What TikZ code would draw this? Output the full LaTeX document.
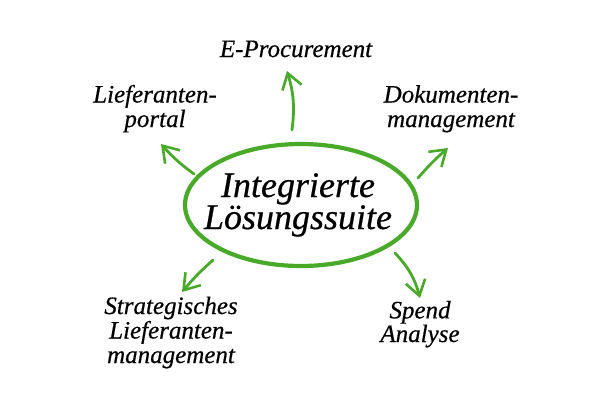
\documentclass[tikz,border=0pt]{standalone}
\usepackage{fontspec}
\newfontfamily\labfont[FakeBold=0.5]{Liberation Serif}
\usetikzlibrary{arrows.meta,shapes.geometric}
\definecolor{leaf}{RGB}{72,170,40}
\tikzset{
  lbl/.style={align=center,anchor=base,inner sep=0pt,text=black,
    font=\labfont\itshape\fontsize{25}{24.5}\selectfont},
  hubtext/.style={align=center,anchor=base,inner sep=0pt,text=black,
    font=\labfont\itshape\fontsize{36}{32}\selectfont},
  ring/.style={draw=leaf,line width=4.2pt,ellipse,inner sep=0pt,
    minimum width=232pt,minimum height=122pt},
  arr/.style={draw=leaf,line width=2.8pt,line cap=round,line join=round,
    -{Straight Barb[length=15pt,width=20pt,line width=2.6pt]}}
}
\begin{document}
\begin{tikzpicture}[x=1pt,y=-1pt]
\useasboundingbox[fill=white] (0,0) rectangle (600,400);
\node[ring] (hub) at (301,205) {};
\node[hubtext] (hubtxt) at (298,229) {Integrierte\\Lösungssuite};
\node[lbl] (eproc) at (296,57) {E-Procurement};
\node[lbl] (portal) at (155,127) {Lieferanten-\\portal};
\node[lbl] (doku) at (451,127) {Dokumenten-\\management};
\node[lbl] (strat) at (171,363) {Strategisches\\Lieferanten-\\management};
\node[lbl,font=\labfont\itshape\fontsize{25}{22}\selectfont] (spend) at (420,342) {Spend\\Analyse};
\coordinate (t1) at (292,130); \coordinate (h1) at (287,71);
\coordinate (t2) at (194,174); \coordinate (h2) at (161,144);
\coordinate (t3) at (418,178); \coordinate (h3) at (448,148);
\coordinate (t4) at (213,260); \coordinate (h4) at (182,292);
\coordinate (t5) at (395,253); \coordinate (h5) at (420,298);
\draw[arr] (t1) to[bend right=12] (h1);
\draw[arr] (t2) to[bend left=6] (h2);
\draw[arr] (t3) to[bend left=4] (h3);
\draw[arr] (t4) to[bend right=4] (h4);
\draw[arr] (t5) to[bend left=14] (h5);
\end{tikzpicture}
\end{document}
